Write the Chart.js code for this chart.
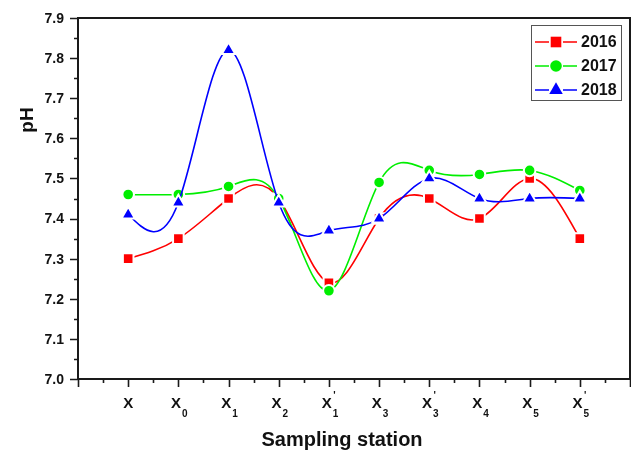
<!DOCTYPE html>
<html><head><meta charset="utf-8">
<script src="https://cdn.jsdelivr.net/npm/chart.js@4.4.1/dist/chart.umd.min.js"></script>
<style>html,body{margin:0;padding:0;background:#fff}#wrap{width:631px;height:450px}</style>
</head><body><div id="wrap"><canvas id="c" width="631" height="450"></canvas></div>
<script>
// ---- data ----
const stations = ["X", "X0", "X1", "X2", "X'1", "X3", "X'3", "X4", "X5", "X'5"];
const ph2016 = [7.30, 7.35, 7.45, 7.45, 7.24, 7.40, 7.45, 7.40, 7.50, 7.35];
const ph2017 = [7.46, 7.46, 7.48, 7.45, 7.22, 7.49, 7.52, 7.51, 7.52, 7.47];
const ph2018 = [7.41, 7.44, 7.82, 7.44, 7.37, 7.40, 7.50, 7.45, 7.45, 7.45];
const yTickLabels = ["7.0", "7.1", "7.2", "7.3", "7.4", "7.5", "7.6", "7.7", "7.8", "7.9"];
const seriesNames = ["2016", "2017", "2018"];
const xTitle = "Sampling station";
const yTitle = "pH";

const colors = ["#ff0000", "#00ee00", "#0000ff"];
const styles = ["rect", "circle", "triangle"];
const radii = [7.5, 5.8, 7.8];
const seriesValues = [ph2016, ph2017, ph2018];

const toPts = arr => arr.map((v, i) => ({x: i, y: v}));

const datasets = seriesValues.map((vals, k) => ({
  label: seriesNames[k],
  data: toPts(vals),
  borderColor: colors[k],
  backgroundColor: colors[k],
  borderWidth: 1.6,
  tension: 0.4,
  pointStyle: styles[k],
  pointRadius: radii[k],
  pointHoverRadius: radii[k],
  pointBackgroundColor: colors[k],
  pointBorderColor: "#ffffff",
  pointBorderWidth: 2,
  order: 3 - k,
  fill: false,
  clip: false
}));

// natural cubic spline control points (Origin-like "Spline" connection)
const naturalSpline = {
  id: "naturalSpline",
  beforeDatasetsDraw(chart) {
    chart.getSortedVisibleDatasetMetas().forEach(meta => {
      const line = meta.dataset, pts = meta.data;
      if (!line || !pts || pts.length < 3) return;
      if (line.updateControlPoints) line.updateControlPoints(chart.chartArea, "x");
      const n = pts.length - 1;
      const X = pts.map(p => p.x), Y = pts.map(p => p.y);
      const h = [];
      for (let i = 0; i < n; i++) h[i] = X[i + 1] - X[i];
      const M = new Array(n + 1).fill(0);
      const a = [], b = [], c = [], d = [];
      for (let i = 1; i < n; i++) {
        a[i] = h[i - 1]; b[i] = 2 * (h[i - 1] + h[i]); c[i] = h[i];
        d[i] = 6 * ((Y[i + 1] - Y[i]) / h[i] - (Y[i] - Y[i - 1]) / h[i - 1]);
      }
      // Thomas algorithm
      const cp = [], dp = [];
      for (let i = 1; i < n; i++) {
        const den = b[i] - (i > 1 ? a[i] * cp[i - 1] : 0);
        cp[i] = c[i] / den;
        dp[i] = (d[i] - (i > 1 ? a[i] * dp[i - 1] : 0)) / den;
      }
      for (let i = n - 1; i >= 1; i--) {
        M[i] = dp[i] - cp[i] * (i < n - 1 ? M[i + 1] : 0);
      }
      for (let i = 0; i < n; i++) {
        const hi = h[i];
        const s = (Y[i + 1] - Y[i]) / hi;
        const m0 = s - hi * (2 * M[i] + M[i + 1]) / 6;
        const m1 = s + hi * (M[i] + 2 * M[i + 1]) / 6;
        pts[i].cp2x = X[i] + hi / 3; pts[i].cp2y = Y[i] + m0 * hi / 3;
        pts[i + 1].cp1x = X[i + 1] - hi / 3; pts[i + 1].cp1y = Y[i + 1] - m1 * hi / 3;
      }
      pts[0].cp1x = X[0]; pts[0].cp1y = Y[0];
      pts[n].cp2x = X[n]; pts[n].cp2y = Y[n];
      line._path = undefined;
    });
  }
};

function drawMarker(ctx, style, x, y, r, color) {
  ctx.save();
  ctx.fillStyle = color;
  ctx.strokeStyle = "#fff";
  ctx.lineWidth = 2;
  ctx.beginPath();
  if (style === "rect") {
    const hh = r * Math.SQRT1_2;
    ctx.rect(x - hh, y - hh, 2 * hh, 2 * hh);
  } else if (style === "circle") {
    ctx.arc(x, y, r, 0, Math.PI * 2);
  } else {
    const dx = r * Math.sin(Math.PI / 3), dy = r * 0.5;
    ctx.moveTo(x, y - r);
    ctx.lineTo(x + dx, y + dy);
    ctx.lineTo(x - dx, y + dy);
    ctx.closePath();
  }
  ctx.stroke();
  ctx.fill();
  ctx.restore();
}

const decor = {
  id: "decor",
  afterDraw(chart) {
    const ctx = chart.ctx;
    const ca = chart.chartArea;
    const xs = chart.scales.x, ys = chart.scales.y;
    ctx.save();
    // frame
    ctx.strokeStyle = "#1a1a1a";
    ctx.lineWidth = 2;
    ctx.strokeRect(ca.left, ca.top, ca.right - ca.left, ca.bottom - ca.top);
    // x ticks
    ctx.lineWidth = 1.6;
    ctx.beginPath();
    for (let v = -1; v <= 10.001; v += 0.5) {
      const px = Math.round(xs.getPixelForValue(v)) + 0.5;
      const len = Math.abs(v - Math.round(v)) < 1e-6 ? 8 : 4;
      ctx.moveTo(px, ca.bottom);
      ctx.lineTo(px, ca.bottom + len);
    }
    // y ticks
    for (let i = 0; i <= 18; i++) {
      const v = 7.0 + i * 0.05;
      const py = Math.round(ys.getPixelForValue(v)) + 0.5;
      const len = i % 2 === 0 ? 8 : 4;
      ctx.moveTo(ca.left, py);
      ctx.lineTo(ca.left - len, py);
    }
    ctx.stroke();
    // y labels
    ctx.fillStyle = "#111";
    ctx.font = "bold 14px 'Liberation Sans', Arial, sans-serif";
    ctx.textAlign = "right";
    ctx.textBaseline = "middle";
    yTickLabels.forEach(t => {
      ctx.fillText(t, 64, ys.getPixelForValue(parseFloat(t)) + 1);
    });
    // x labels with subscript / prime
    ctx.textBaseline = "alphabetic";
    ctx.textAlign = "left";
    stations.forEach((s, i) => {
      const base = s[0];
      const prime = s.includes("'");
      const sub = s.replace(/[^0-9]/g, "");
      ctx.font = "bold 15px 'Liberation Sans', Arial, sans-serif";
      const wb = ctx.measureText(base).width;
      ctx.font = "bold 10px 'Liberation Sans', Arial, sans-serif";
      const ws = sub ? ctx.measureText(sub).width + 1 : 0;
      const total = wb + ws;
      const cx = xs.getPixelForValue(i);
      const x0 = cx - total / 2 + (sub ? 1 : 0);
      ctx.font = "bold 15px 'Liberation Sans', Arial, sans-serif";
      ctx.fillText(base, x0, 408);
      if (sub) {
        ctx.font = "bold 10px 'Liberation Sans', Arial, sans-serif";
        ctx.fillText(sub, x0 + wb + 1, 417);
      }
      if (prime) {
        ctx.font = "bold 10px 'Liberation Sans', Arial, sans-serif";
        ctx.fillText("'", x0 + wb + 1.5, 399);
      }
    });
    // axis titles
    ctx.font = "bold 20px 'Liberation Sans', Arial, sans-serif";
    ctx.textAlign = "center";
    ctx.fillText(xTitle, 342, 446);
    ctx.save();
    ctx.translate(33, 120);
    ctx.rotate(-Math.PI / 2);
    ctx.font = "bold 19px 'Liberation Sans', Arial, sans-serif";
    ctx.fillText(yTitle, 0, 0);
    ctx.restore();
    // legend
    ctx.strokeStyle = "#555";
    ctx.lineWidth = 1;
    ctx.strokeRect(531.5, 25.5, 90, 75);
    const rows = [42, 66, 90];
    seriesNames.forEach((nm, k) => {
      const y = rows[k];
      ctx.strokeStyle = colors[k];
      ctx.lineWidth = 1.6;
      ctx.beginPath();
      ctx.moveTo(535, y); ctx.lineTo(549, y);
      ctx.moveTo(563, y); ctx.lineTo(577, y);
      ctx.stroke();
      drawMarker(ctx, styles[k], 556, y, radii[k], colors[k]);
      ctx.fillStyle = "#111";
      ctx.font = "bold 16px 'Liberation Sans', Arial, sans-serif";
      ctx.textAlign = "left";
      ctx.textBaseline = "middle";
      ctx.fillText(nm, 581, y + 1);
    });
    ctx.restore();
  }
};

new Chart(document.getElementById("c"), {
  type: "line",
  data: { datasets },
  options: {
    responsive: false,
    animation: false,
    devicePixelRatio: 1,
    layout: { autoPadding: false, padding: { top: 18, right: 1, left: 0, bottom: 0 } },
    plugins: { legend: { display: false }, tooltip: { enabled: false } },
    scales: {
      x: {
        type: "linear", min: -1, max: 10,
        ticks: { display: false },
        grid: { display: false },
        border: { display: false },
        afterFit(s) { s.height = 71; }
      },
      y: {
        type: "linear", min: 7.0, max: 7.9,
        ticks: { display: false },
        grid: { display: false },
        border: { display: false },
        afterFit(s) { s.width = 78; }
      }
    }
  },
  plugins: [naturalSpline, decor]
});
</script>
</body></html>
